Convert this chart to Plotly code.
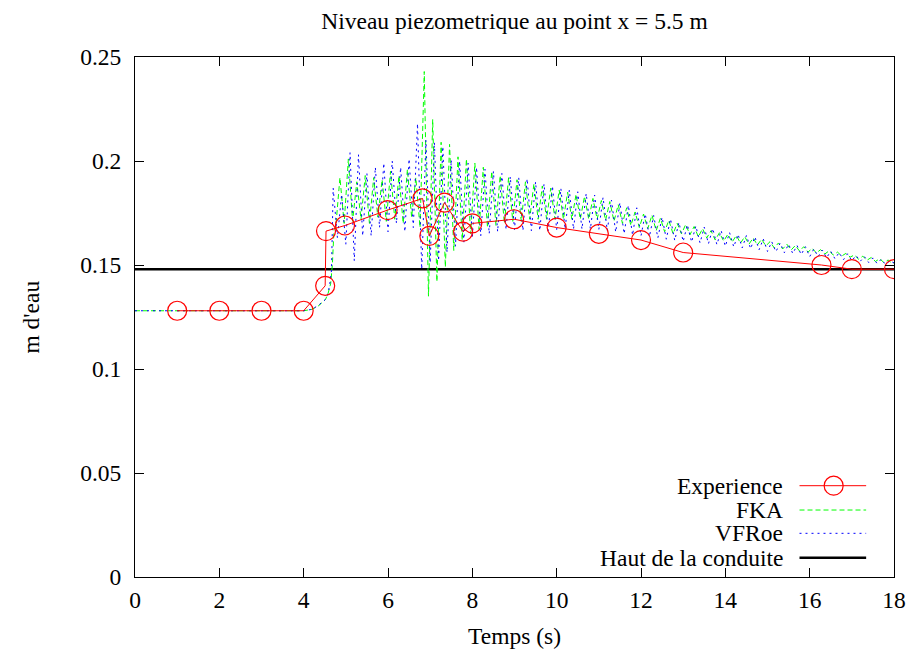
import plotly.graph_objects as go

# ---------------- data ----------------
EXP_T = [1, 2, 3, 4, 4.51, 4.53, 4.98, 5.99, 6.82, 6.98, 7.34, 7.78, 8.0, 8.99,
         10.0, 11.0, 12.0, 13.0, 16.28, 17.0, 18.0]
EXP_Y = [0.128, 0.128, 0.128, 0.128, 0.140, 0.1663, 0.169, 0.1764, 0.182, 0.164,
         0.180, 0.166, 0.170, 0.172, 0.168, 0.165, 0.162, 0.156, 0.150, 0.148, 0.148]

FKA_T = [0, 4.0, 4.2, 4.36, 4.52, 4.58, 4.64, 4.68, 4.72,
         4.76, 4.86, 4.96, 5.06, 5.16, 5.26, 5.36, 5.46, 5.56, 5.66, 5.76, 5.86, 5.96,
         6.06, 6.16, 6.26, 6.36, 6.46, 6.56, 6.66, 6.76, 6.86, 6.96,
         7.06, 7.16, 7.26, 7.36, 7.46, 7.56, 7.66, 7.76, 7.86, 7.96,
         8.06, 8.16, 8.26, 8.36, 8.46, 8.56, 8.66, 8.76, 8.86, 8.96,
         9.06, 9.16, 9.26, 9.36, 9.46, 9.56, 9.66, 9.76, 9.86, 9.96,
         10.06, 10.16, 10.26, 10.36, 10.46, 10.56, 10.66, 10.76, 10.86, 10.96,
         11.06, 11.16, 11.26, 11.36, 11.46, 11.56, 11.66, 11.76, 11.86, 11.96,
         12.06, 12.16, 12.26, 12.36, 12.46, 12.56, 12.66, 12.76, 12.86, 12.96,
         13.06, 13.16, 13.26, 13.36, 13.46, 13.56, 13.66, 13.76, 13.86, 13.96,
         14.06, 14.16, 14.26, 14.36, 14.46, 14.56, 14.66, 14.76, 14.86, 14.96,
         15.06, 15.16, 15.26, 15.36, 15.46, 15.56, 15.66, 15.76, 15.86, 15.96,
         16.06, 16.16, 16.26, 16.36, 16.46, 16.56, 16.66, 16.76, 16.86, 16.96,
         17.06, 17.16, 17.26, 17.36, 17.46, 17.56, 17.66, 17.76, 17.86, 17.96, 18.0]
FKA_Y = [0.128, 0.128, 0.1287, 0.1305, 0.1335, 0.1364, 0.141, 0.150, 0.167,
         0.168, 0.192, 0.170, 0.201, 0.171, 0.190, 0.172, 0.193, 0.170, 0.192, 0.173, 0.191, 0.171,
         0.195, 0.172, 0.193, 0.170, 0.196, 0.173, 0.192, 0.168, 0.243, 0.135,
         0.220, 0.142, 0.209, 0.149, 0.208, 0.157, 0.202, 0.162, 0.201, 0.165,
         0.199, 0.167, 0.197, 0.168, 0.195, 0.169, 0.193, 0.170, 0.192, 0.171,
         0.191, 0.171, 0.190, 0.172, 0.189, 0.172, 0.188, 0.172, 0.187, 0.172,
         0.186, 0.172, 0.185, 0.172, 0.184, 0.172, 0.183, 0.172, 0.182, 0.172,
         0.181, 0.1715, 0.1805, 0.171, 0.179, 0.170, 0.1775, 0.169, 0.1755, 0.168,
         0.1745, 0.1675, 0.174, 0.1665, 0.1725, 0.166, 0.1715, 0.165, 0.170, 0.165,
         0.1695, 0.1645, 0.1685, 0.1635, 0.1675, 0.163, 0.1665, 0.162, 0.1655, 0.1615,
         0.1648, 0.161, 0.1642, 0.1605, 0.1636, 0.160, 0.163, 0.1596, 0.1624, 0.1592,
         0.1612, 0.1582, 0.1606, 0.1577, 0.160, 0.1572, 0.1594, 0.1567, 0.1588, 0.1562,
         0.158, 0.1558, 0.1574, 0.1553, 0.1568, 0.1548, 0.1562, 0.1543, 0.1556, 0.1538,
         0.1548, 0.1528, 0.1542, 0.1523, 0.1536, 0.1517, 0.153, 0.1512, 0.1524, 0.1507, 0.1512]

VFROE_T = [0, 4.0, 4.2, 4.36, 4.52, 4.58, 4.62, 4.66,
           4.70, 4.80, 4.90, 5.00, 5.10, 5.20, 5.30, 5.40, 5.50, 5.60, 5.70, 5.80, 5.90,
           6.00, 6.10, 6.20, 6.30, 6.40, 6.50, 6.60, 6.70, 6.80, 6.90,
           7.00, 7.10, 7.20, 7.30, 7.40, 7.50, 7.60, 7.70, 7.80, 7.90,
           8.00, 8.10, 8.20, 8.30, 8.40, 8.50, 8.60, 8.70, 8.80, 8.90,
           9.00, 9.10, 9.20, 9.30, 9.40, 9.50, 9.60, 9.70, 9.80, 9.90,
           10.00, 10.10, 10.20, 10.30, 10.40, 10.50, 10.60, 10.70, 10.80, 10.90,
           11.00, 11.10, 11.20, 11.30, 11.40, 11.50, 11.60, 11.70, 11.80, 11.90,
           12.00, 12.10, 12.20, 12.30, 12.40, 12.50, 12.60, 12.70, 12.80, 12.90,
           13.00, 13.10, 13.20, 13.30, 13.40, 13.50, 13.60, 13.70, 13.80, 13.90,
           14.00, 14.10, 14.20, 14.30, 14.40, 14.50, 14.60, 14.70, 14.80, 14.90,
           15.00, 15.10, 15.20, 15.30, 15.40, 15.50, 15.60, 15.70, 15.80, 15.90,
           16.00, 16.10, 16.20, 16.30, 16.40, 16.50, 16.60, 16.70, 16.80, 16.90,
           17.00, 17.10, 17.20, 17.30, 17.40, 17.50, 17.60, 17.70, 17.80, 17.90, 18.0]
VFROE_Y = [0.128, 0.128, 0.1287, 0.1308, 0.1335, 0.1364, 0.141, 0.1476,
           0.187, 0.163, 0.184, 0.160, 0.204, 0.152, 0.203, 0.164, 0.194, 0.164, 0.197, 0.168, 0.199,
           0.166, 0.200, 0.170, 0.197, 0.166, 0.201, 0.168, 0.218, 0.148, 0.210,
           0.151, 0.209, 0.152, 0.207, 0.156, 0.2005, 0.159, 0.200, 0.161, 0.199,
           0.163, 0.197, 0.164, 0.196, 0.165, 0.195, 0.166, 0.194, 0.167, 0.1925,
           0.167, 0.192, 0.1665, 0.1915, 0.1665, 0.190, 0.1665, 0.189, 0.1665, 0.188,
           0.167, 0.1868, 0.1672, 0.186, 0.1672, 0.1852, 0.1672, 0.1844, 0.1672, 0.1836,
           0.167, 0.1825, 0.1665, 0.1812, 0.1658, 0.180, 0.165, 0.1787, 0.1643, 0.1775,
           0.164, 0.1746, 0.1636, 0.1738, 0.163, 0.173, 0.1624, 0.1722, 0.1618, 0.1705,
           0.1613, 0.1694, 0.161, 0.1688, 0.1606, 0.1682, 0.1602, 0.1676, 0.1598, 0.1666,
           0.159, 0.1656, 0.1587, 0.1648, 0.1582, 0.1642, 0.1578, 0.1636, 0.1573, 0.1625,
           0.1565, 0.1612, 0.1564, 0.1606, 0.1559, 0.160, 0.1555, 0.1594, 0.155, 0.1588,
           0.154, 0.1577, 0.154, 0.1572, 0.1535, 0.1566, 0.153, 0.156, 0.1525, 0.1554,
           0.152, 0.1546, 0.1518, 0.154, 0.1512, 0.1534, 0.1507, 0.1528, 0.1502, 0.152, 0.151]

HAUT_T = [0, 18]
HAUT_Y = [0.148, 0.148]

X_TICKS = [0, 2, 4, 6, 8, 10, 12, 14, 16, 18]
Y_TICKS = [0, 0.05, 0.1, 0.15, 0.2, 0.25]
Y_TICK_TEXT = ["0", "0.05", "0.1", "0.15", "0.2", "0.25"]

TITLE = "Niveau piezometrique au point x = 5.5 m"
LEGEND_NAMES = ["Experience", "FKA", "VFRoe", "Haut de la conduite"]

FONT = "Liberation Serif"
FS = 23.5
RED, GREEN, BLUE = "#ff0000", "#00ff00", "#0000ff"

fig = go.Figure()
fig.add_trace(go.Scatter(x=HAUT_T, y=HAUT_Y, mode="lines",
                         line=dict(color="black", width=2.5), showlegend=False))
fig.add_trace(go.Scatter(x=FKA_T, y=FKA_Y, mode="lines",
                         line=dict(color=GREEN, width=1, dash="5px,3px"), showlegend=False))
fig.add_trace(go.Scatter(x=VFROE_T, y=VFROE_Y, mode="lines",
                         line=dict(color=BLUE, width=1, dash="2px,4px"), showlegend=False))
fig.add_trace(go.Scatter(x=EXP_T, y=EXP_Y, mode="lines+markers",
                         line=dict(color=RED, width=1),
                         marker=dict(symbol="circle-open", size=19, color=RED,
                                     line=dict(width=1.2, color=RED)),
                         showlegend=False))

# manual gnuplot-style legend (text right-aligned, sample on the right)
leg_y = [0.1756, 0.1288, 0.084, 0.0371]
samples = [dict(color=RED, width=1, dash="solid"),
           dict(color=GREEN, width=1, dash="5px,3px"),
           dict(color=BLUE, width=1, dash="2px,4px"),
           dict(color="black", width=2.5, dash="solid")]
for name, yy, ln in zip(LEGEND_NAMES, leg_y, samples):
    fig.add_annotation(x=0.8552, y=yy, xref="paper", yref="paper", text=name,
                       showarrow=False, xanchor="right", yanchor="middle",
                       borderpad=0,
                       font=dict(family=FONT, size=FS, color="black"))
    fig.add_shape(type="line", xref="paper", yref="paper", x0=0.8755, x1=0.9633,
                  y0=yy, y1=yy, line=ln)
fig.add_shape(type="circle", xref="paper", yref="paper", xsizemode="pixel",
              ysizemode="pixel", xanchor=0.9205, yanchor=leg_y[0],
              x0=-9.5, x1=9.5, y0=-9.5, y1=9.5, line=dict(color=RED, width=1.2))

fig.add_annotation(x=-0.1376, y=0.5, xref="paper", yref="paper", text="m d'eau",
                   showarrow=False, textangle=-90, xanchor="center", yanchor="middle",
                   font=dict(family=FONT, size=FS, color="black"))
fig.add_annotation(x=0.5, y=-0.1135, xref="paper", yref="paper", text="Temps (s)",
                   showarrow=False, xanchor="center", yanchor="middle",
                   font=dict(family=FONT, size=FS, color="black"))

axis_common = dict(showgrid=False, zeroline=False, showline=True, linecolor="black",
                   linewidth=1, mirror="ticks", ticks="inside", ticklen=9,
                   tickcolor="black", tickwidth=1,
                   tickfont=dict(family=FONT, size=FS, color="black"))
fig.update_layout(
    width=910, height=649,
    margin=dict(l=127, r=20, t=49, b=80),
    paper_bgcolor="white", plot_bgcolor="white",
    title=dict(text=TITLE, x=0.5, xref="paper", y=1 - 12.5 / 649, yref="container",
               xanchor="center", yanchor="middle",
               font=dict(family=FONT, size=FS, color="black")),
    xaxis=dict(range=[0, 18], tickvals=X_TICKS, ticklabelstandoff=2, **axis_common),
    yaxis=dict(range=[0, 0.25], tickvals=Y_TICKS, ticktext=Y_TICK_TEXT,
               ticklabelstandoff=8, **axis_common),
    showlegend=False,
)

fig.write_html("out.html")
